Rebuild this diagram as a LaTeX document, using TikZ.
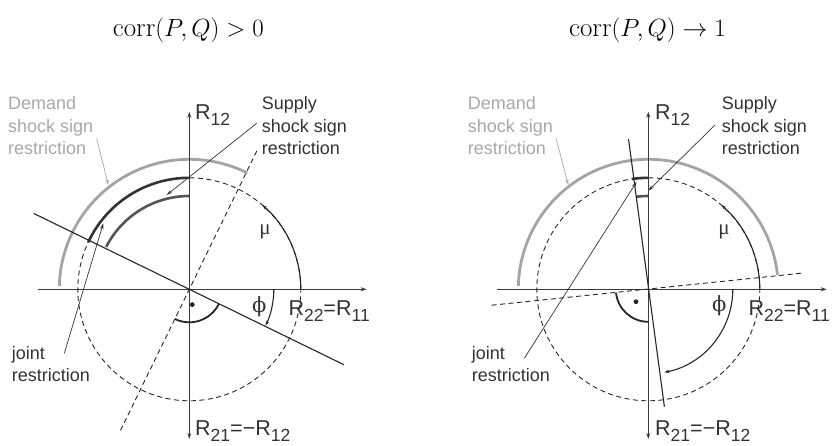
\documentclass[tikz,border=0pt]{standalone}
\usepackage{fontspec}
\newfontfamily\arial{Liberation Sans}
\newfontfamily\symserif{Liberation Serif}
\newfontfamily\djvserif{DejaVu Serif}
\usetikzlibrary{arrows.meta}
\definecolor{txtdark}{HTML}{333333}
\definecolor{txtgray}{HTML}{A8A8A8}
\definecolor{arcgray}{HTML}{A4A4A4}
\definecolor{axisc}{HTML}{3C3C3C}
\definecolor{jointc}{HTML}{333333}
\definecolor{supplyc}{HTML}{555555}
\newcommand{\sbs}[1]{\raisebox{-6pt}{\fontsize{17.5}{17.5}\selectfont #1}}
\begin{document}
\begin{tikzpicture}[x=1pt,y=1pt,
  lab/.style={font=\arial\fontsize{18}{22.6}\selectfont, inner sep=0pt, align=left, anchor=base west, text=txtdark},
  glab/.style={lab, text=txtgray},
  rlab/.style={font=\arial\fontsize{21.5}{24}\selectfont, inner sep=0pt, anchor=base west, text=txtdark},
  glyph/.style={font=\fontsize{21}{22}\selectfont, inner sep=0pt, text=txtdark},
  title/.style={font=\fontsize{27}{28}\selectfont, inner sep=0pt, anchor=base},
  axis/.style={draw=axisc, line width=1.2pt},
  axtip/.style={-{Stealth[length=6pt,width=4pt]}},
  solidl/.style={draw=black!85, line width=1.1pt},
  dashl/.style={draw=black!85, line width=0.9pt, dash pattern=on 5pt off 3.5pt},
  grayarc/.style={draw=arcgray, line width=2.8pt},
  jointarc/.style={draw=jointc, line width=2.6pt},
  supplyarc/.style={draw=supplyc, line width=2.6pt},
  angarc/.style={draw=black!85, line width=1.1pt, -{Stealth[length=5pt,width=3.5pt]}},
  rightang/.style={draw=black!85, line width=1.8pt},
  ptr/.style={draw=txtdark, line width=0.7pt, -{Stealth[length=6pt,width=3.5pt]}},
  gptr/.style={ptr, draw=txtgray}
]
\useasboundingbox (0,0) rectangle (834,445);

% titles
\node[title] (tL) at (188.3,408.3) {$\mathrm{corr}(P,Q)>0$};
\node[title] (tR) at (647.5,408.3) {$\mathrm{corr}(P,Q)\rightarrow 1$};

% ================= LEFT PANEL =================
\coordinate (OL) at (189.3,155.7);
\draw[dashl] (OL) circle (111.5);
\draw[grayarc] ([shift={(63.5:130)}]OL) arc (63.5:178.5:130);
\draw[jointarc] ([shift={(90:111.5)}]OL) arc (90:155:111.5);
\draw[supplyarc] ([shift={(90:93.3)}]OL) arc (90:153:93.3);
\draw[axis,axtip] (37.7,155.7) -- (366.7,155.7);
\draw[axis,axtip] (189.3,155.7) -- (189.3,333.3);
\draw[axis,axtip] (189.3,155.7) -- (189.3,6);
\draw[solidl] ([shift={(154:173)}]OL) -- ([shift={(-26:172)}]OL);
\draw[dashl] ([shift={(244:157)}]OL) -- ([shift={(64:157)}]OL);
\draw[angarc] ([shift={(0:111.5)}]OL) arc (0:49:111.5);
\draw[angarc] ([shift={(0:84.5)}]OL) arc (0:-25.5:84.5);
\draw[rightang] ([shift={(244:33)}]OL) arc (244:334:33);
\fill[black!85] ([shift={(3,-15.3)}]OL) circle (2.4);

\node[glyph] (muL) at (265,213.3) {\symserif μ};
\node[glyph] (phiL) at (259.3,138.3) {\djvserif ϕ};
\node[rlab] (r12L) at (195,325) {R\sbs{12}};
\node[rlab] (r22L) at (288.3,130) {R\sbs{22}=R\sbs{11}};
\node[rlab] (r21L) at (195,9.5) {R\sbs{21}=−R\sbs{12}};

\node[glab] (demL) at (8,290) {Demand\\shock sign\\restriction};
\node[lab] (supL) at (261.7,290) {Supply\\shock sign\\restriction};
\node[lab] (jntL) at (11.7,63.3) {joint\\restriction};

\coordinate (dL1) at (96.7,306.7); \coordinate (dL2) at (108.3,260);
\coordinate (sL1) at (256.7,321.7); \coordinate (sL2) at (166.7,250);
\coordinate (jL1) at (64.3,91.7); \coordinate (jL2) at (103.3,221.7);
\draw[gptr] (dL1) -- (dL2);
\draw[ptr] (sL1) -- (sL2);
\draw[ptr] (jL1) -- (jL2);

% ================= RIGHT PANEL =================
\coordinate (OR) at (648.3,155.7);
\draw[dashl] (OR) circle (111.5);
\draw[grayarc] ([shift={(6.4:130)}]OR) arc (6.4:178.5:130);
\draw[jointarc] ([shift={(90:111.5)}]OR) arc (90:98.5:111.5);
\draw[supplyarc] ([shift={(90:93.3)}]OR) arc (90:97.5:93.3);
\draw[axis,axtip] (497.3,155.7) -- (826.7,155.7);
\draw[axis,axtip] (648.3,155.7) -- (648.3,333.3);
\draw[axis,axtip] (648.3,155.7) -- (648.3,6);
\draw[solidl] ([shift={(97.5:151.5)}]OR) -- ([shift={(-82.2:118.5)}]OR);
\draw[dashl] ([shift={(185.8:157.5)}]OR) -- ([shift={(6:153.5)}]OR);
\draw[angarc] ([shift={(0:111.5)}]OR) arc (0:49:111.5);
\draw[angarc] ([shift={(0:84.5)}]OR) arc (0:-79:84.5);
\draw[rightang] ([shift={(186:32.5)}]OR) arc (186:270:32.5);
\fill[black!85] ([shift={(-12.3,-12.4)}]OR) circle (2.4);

\node[glyph] (muR) at (724,213.3) {\symserif μ};
\node[glyph] (phiR) at (719.3,139) {\djvserif ϕ};
\node[rlab] (r12R) at (655,325) {R\sbs{12}};
\node[rlab] (r22R) at (748.3,130) {R\sbs{22}=R\sbs{11}};
\node[rlab] (r21R) at (655,9.5) {R\sbs{21}=−R\sbs{12}};

\node[glab] (demR) at (467.7,290) {Demand\\shock sign\\restriction};
\node[lab] (supR) at (721.7,290) {Supply\\shock sign\\restriction};
\node[lab] (jntR) at (471.7,63.3) {joint\\restriction};

\coordinate (dR1) at (556,306.7); \coordinate (dR2) at (568.3,260);
\coordinate (sR1) at (715,320); \coordinate (sR2) at (648.3,254.3);
\coordinate (jR1) at (524.3,86.7); \coordinate (jR2) at (636.7,263.3);
\draw[gptr] (dR1) -- (dR2);
\draw[ptr] (sR1) -- (sR2);
\draw[ptr] (jR1) -- (jR2);
\end{tikzpicture}
\end{document}
